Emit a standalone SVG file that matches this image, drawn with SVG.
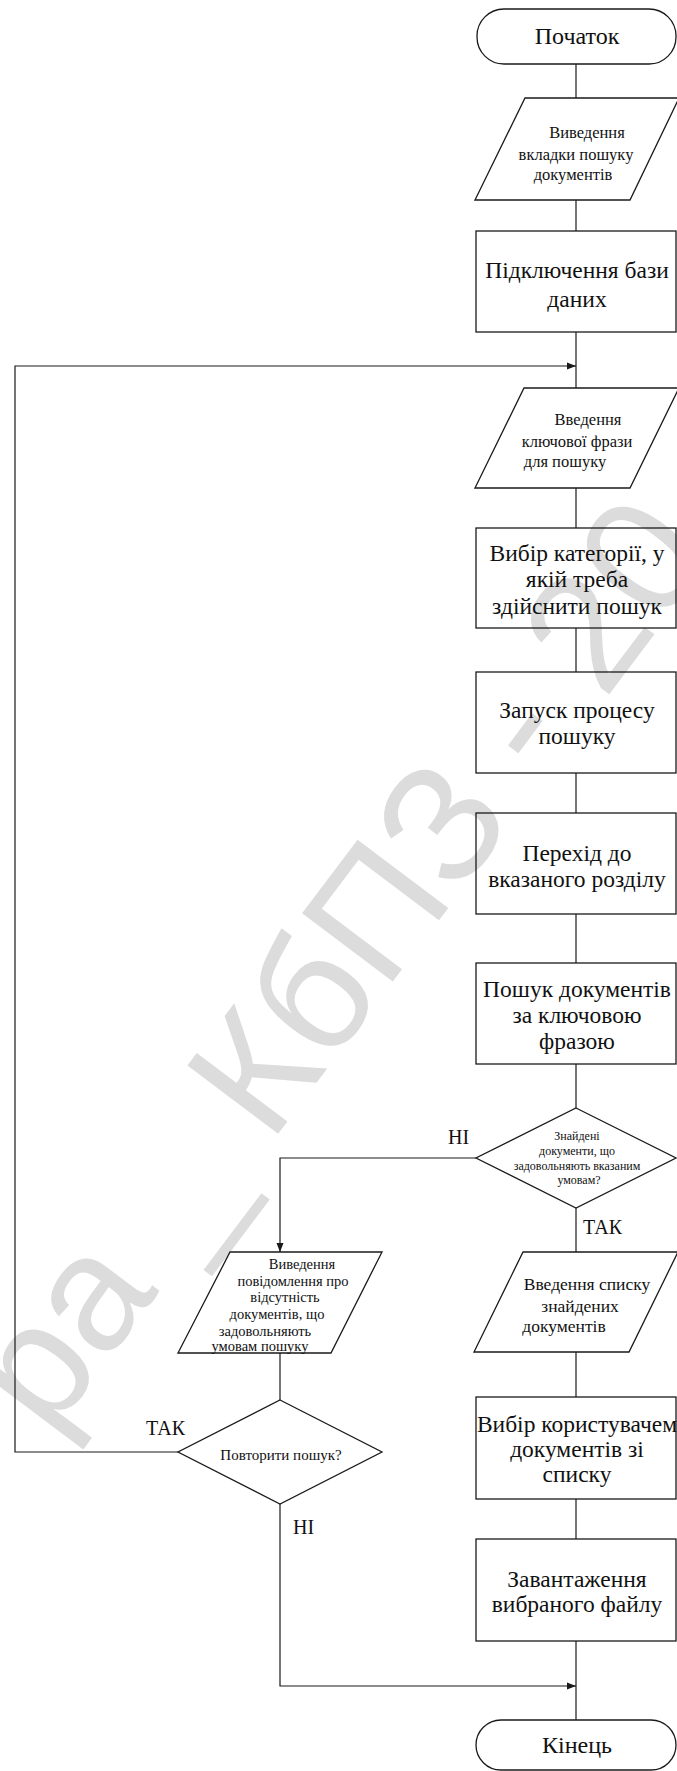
<svg xmlns="http://www.w3.org/2000/svg" width="677" height="1771" viewBox="0 0 677 1771">
  <style>
    .shape { fill: none; stroke: #1a1a1a; stroke-width: 1.3; }
    .link { fill: none; stroke: #1a1a1a; stroke-width: 1.2; }
    .t { font-family: "Liberation Serif", "Times New Roman", serif; fill: #111; text-anchor: middle; }
    .big { font-size: 23.5px; }
    .term { font-size: 24px; }
    .io { font-size: 16.5px; }
    .io2 { font-size: 17.5px; }
    .io3 { font-size: 14.5px; }
    .dec { font-size: 12px; }
    .dec2 { font-size: 15px; }
    .lbl { font-family: "Liberation Serif", "Times New Roman", serif; font-size: 20px; fill: #111; }
    .mark { font-family: "Liberation Sans", Arial, sans-serif; font-size: 165px; fill: #dcdcdc; }
  </style>
  <defs>
    <marker id="arrow" markerWidth="10" markerHeight="8" refX="9" refY="4" orient="auto" markerUnits="userSpaceOnUse">
      <path d="M0,0.5 L9,4 L0,7.5 Z" fill="#1a1a1a"/>
    </marker>
  </defs>

  <rect width="677" height="1771" fill="#ffffff"/>

  <!-- background watermark -->
  <text class="mark" text-anchor="middle" transform="translate(382,996) rotate(-53)">ра _ КбПЗ - 20</text>

  <g id="connectors">
    <line class="link" x1="576" y1="64" x2="576" y2="98"/>
    <line class="link" x1="576" y1="200" x2="576" y2="231"/>
    <line class="link" x1="576" y1="332" x2="576" y2="388"/>
    <line class="link" x1="576" y1="488" x2="576" y2="528"/>
    <line class="link" x1="576" y1="628" x2="576" y2="672"/>
    <line class="link" x1="576" y1="773" x2="576" y2="813"/>
    <line class="link" x1="576" y1="914" x2="576" y2="963"/>
    <line class="link" x1="576" y1="1064" x2="576" y2="1108"/>
    <line class="link" x1="576" y1="1208" x2="576" y2="1252"/>
    <line class="link" x1="576" y1="1352" x2="576" y2="1397"/>
    <line class="link" x1="576" y1="1499" x2="576" y2="1539"/>
    <line class="link" x1="576" y1="1641" x2="576" y2="1720"/>
    <!-- "no" branch of the first decision -->
    <polyline class="link" points="476,1158 280,1158 280,1252" marker-end="url(#arrow)"/>
    <line class="link" x1="280" y1="1353" x2="280" y2="1400"/>
    <!-- repeat search loop -->
    <polyline class="link" points="178,1452 15,1452 15,366 576,366" marker-end="url(#arrow)"/>
    <!-- finish without repeat -->
    <polyline class="link" points="280,1504 280,1686 576,1686" marker-end="url(#arrow)"/>
    <text class="lbl" x="448" y="1144">НІ</text>
    <text class="lbl" x="583" y="1234">ТАК</text>
    <text class="lbl" x="146" y="1435">ТАК</text>
    <text class="lbl" x="293" y="1534">НІ</text>
  </g>

  <g id="start">
    <rect class="shape" x="477" y="9" width="199" height="55" rx="27" ry="27"/>
    <text class="t term" x="577" y="44">Початок</text>
  </g>

  <g id="open-search-tab">
    <polygon class="shape" points="525,98 679,98 630,200 475,200"/>
    <text class="t io" x="587" y="138">Виведення</text>
    <text class="t io" x="576" y="160">вкладки пошуку</text>
    <text class="t io" x="573" y="180">документів</text>
  </g>

  <g id="connect-db">
    <rect class="shape" x="476" y="231" width="200" height="101"/>
    <text class="t big" x="577" y="278">Підключення бази</text>
    <text class="t big" x="577" y="307">даних</text>
  </g>

  <g id="enter-phrase">
    <polygon class="shape" points="524,388 679,388 630,488 475,488"/>
    <text class="t io" x="588" y="425">Введення</text>
    <text class="t io" x="577" y="447">ключової фрази</text>
    <text class="t io" x="565" y="467">для пошуку</text>
  </g>

  <g id="choose-category">
    <rect class="shape" x="476" y="528" width="200" height="100"/>
    <text class="t big" x="577" y="561">Вибір категорії, у</text>
    <text class="t big" x="577" y="587">якій треба</text>
    <text class="t big" x="577" y="614">здійснити пошук</text>
  </g>

  <g id="run-search">
    <rect class="shape" x="476" y="672" width="200" height="101"/>
    <text class="t big" x="577" y="718">Запуск процесу</text>
    <text class="t big" x="577" y="744">пошуку</text>
  </g>

  <g id="go-to-section">
    <rect class="shape" x="476" y="813" width="200" height="101"/>
    <text class="t big" x="577" y="861">Перехід до</text>
    <text class="t big" x="577" y="887">вказаного розділу</text>
  </g>

  <g id="search-docs">
    <rect class="shape" x="476" y="963" width="200" height="101"/>
    <text class="t big" x="577" y="997">Пошук документів</text>
    <text class="t big" x="577" y="1023">за ключовою</text>
    <text class="t big" x="577" y="1049">фразою</text>
  </g>

  <g id="found-decision">
    <polygon class="shape" points="576,1108 676,1158 576,1208 476,1158"/>
    <text class="t dec" x="577" y="1140">Знайдені</text>
    <text class="t dec" x="577" y="1155">документи, що</text>
    <text class="t dec" x="577" y="1170">задовольняють вказаним</text>
    <text class="t dec" x="579" y="1184">умовам?</text>
  </g>

  <g id="not-found-message">
    <polygon class="shape" points="230,1252 382,1252 331,1353 178,1353"/>
    <text class="t io3" x="302" y="1269">Виведення</text>
    <text class="t io3" x="293" y="1286">повідомлення про</text>
    <text class="t io3" x="285" y="1302">відсутність</text>
    <text class="t io3" x="277" y="1319">документів, що</text>
    <text class="t io3" x="265" y="1336">задовольняють</text>
    <text class="t io3" x="260" y="1351">умовам пошуку</text>
  </g>

  <g id="repeat-decision">
    <polygon class="shape" points="280,1400 382,1452 280,1504 178,1452"/>
    <text class="t dec2" x="281" y="1460">Повторити пошук?</text>
  </g>

  <g id="show-list">
    <polygon class="shape" points="523,1252 678,1252 629,1352 474,1352"/>
    <text class="t io2" x="587" y="1290">Введення списку</text>
    <text class="t io2" x="580" y="1312">знайдених</text>
    <text class="t io2" x="564" y="1332">документів</text>
  </g>

  <g id="user-selects">
    <rect class="shape" x="476" y="1397" width="200" height="102"/>
    <text class="t big" x="577" y="1432">Вибір користувачем</text>
    <text class="t big" x="577" y="1457">документів зі</text>
    <text class="t big" x="577" y="1482">списку</text>
  </g>

  <g id="download-file">
    <rect class="shape" x="476" y="1539" width="200" height="102"/>
    <text class="t big" x="577" y="1587">Завантаження</text>
    <text class="t big" x="577" y="1612">вибраного файлу</text>
  </g>

  <g id="end">
    <rect class="shape" x="476" y="1720" width="200" height="50" rx="25" ry="25"/>
    <text class="t term" x="577" y="1753">Кінець</text>
  </g>
</svg>
